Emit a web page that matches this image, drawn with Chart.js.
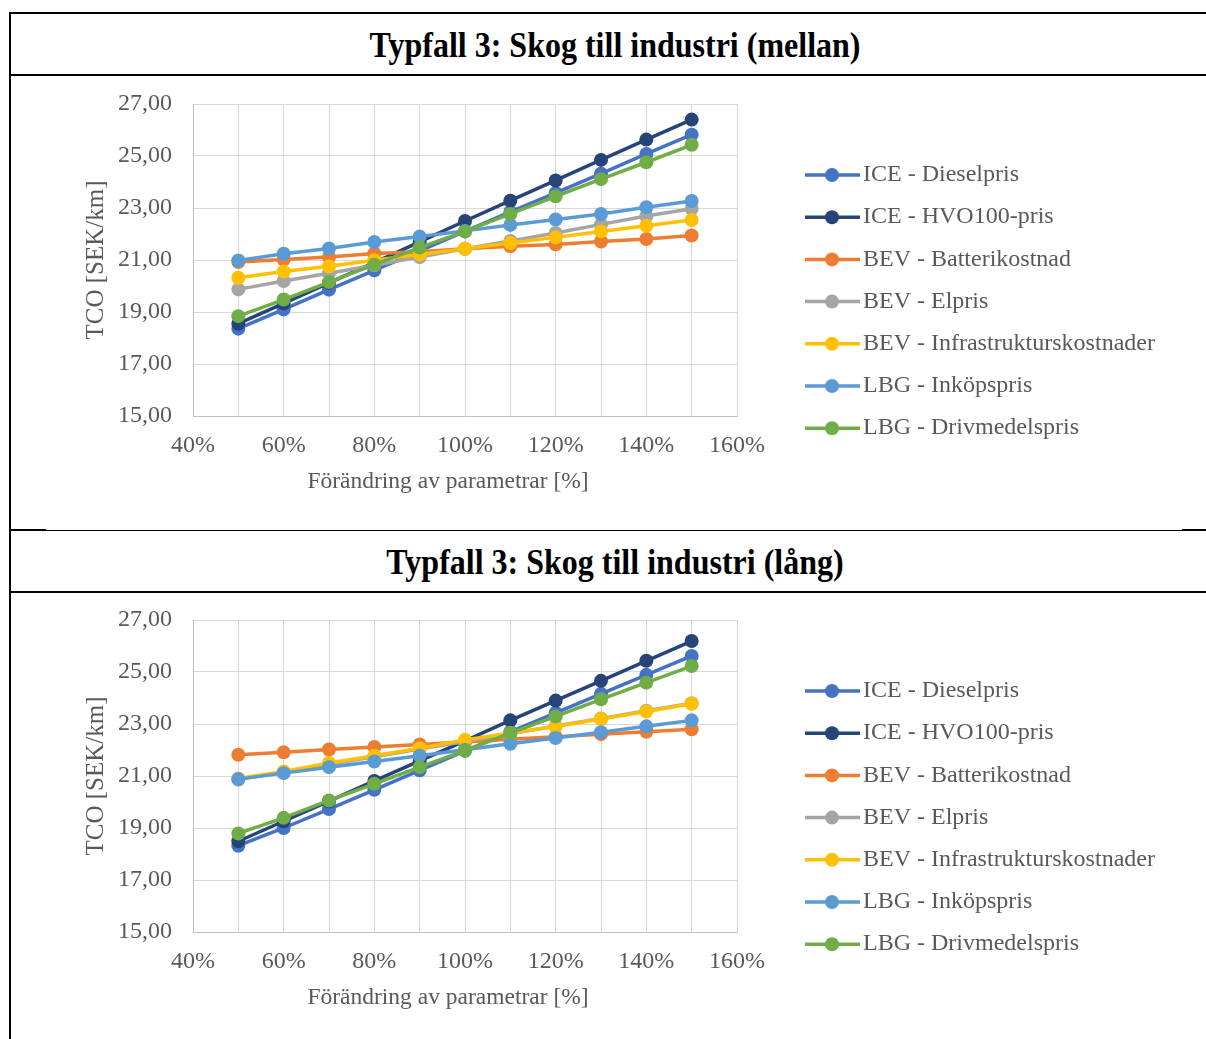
<!DOCTYPE html>
<html>
<head>
<meta charset="utf-8">
<script src="https://cdn.jsdelivr.net/npm/chart.js@4.4.1/dist/chart.umd.min.js"></script>
<style>
  html, body { margin:0; padding:0; background:#fff; }
  body { width:1206px; height:1039px; overflow:hidden; position:relative; }
  .hl { position:absolute; background:#000; }
  .title { position:absolute; left:0; width:1230px; height:60px; line-height:60px; text-align:center;
           font-family:'Liberation Serif','Times New Roman',serif; font-weight:bold; font-size:32px; color:#000;
           transform:scaleY(1.12); transform-origin:50% 50%; }
  canvas { position:absolute; left:11px; }
</style>
</head>
<body>
<div class="hl" style="left:9px;top:12px;width:1197px;height:2px"></div>
<div class="hl" style="left:9px;top:74px;width:1197px;height:2px"></div>
<div class="hl" style="left:9px;top:530px;width:1197px;height:1px"></div>
<div class="hl" style="left:9px;top:529px;width:37px;height:2px"></div>
<div class="hl" style="left:1182px;top:529px;width:24px;height:2px"></div>
<div class="hl" style="left:9px;top:591px;width:1197px;height:2px"></div>
<div class="hl" style="left:9px;top:12px;width:2px;height:1027px"></div>
<div class="title" style="top:15px">Typfall 3: Skog till industri (mellan)</div>
<div class="title" style="top:532px">Typfall 3: Skog till industri (lång)</div>
<canvas id="c1" width="1195" height="452" style="top:76px"></canvas>
<canvas id="c2" width="1195" height="452" style="top:592px"></canvas>
<script>
// ---- data ----
const xValues = [50, 60, 70, 80, 90, 100, 110, 120, 130, 140, 150]; // Förändring av parametrar [%]
const xTickValues = [40, 60, 80, 100, 120, 140, 160];
const yTickValues = [15, 17, 19, 21, 23, 25, 27];
const seriesNames = [
  'ICE - Dieselpris',
  'ICE - HVO100-pris',
  'BEV - Batterikostnad',
  'BEV - Elpris',
  'BEV - Infrastrukturskostnader',
  'LBG - Inköpspris',
  'LBG - Drivmedelspris'
];
const seriesColors = ['#4472C4', '#264478', '#ED7D31', '#A5A5A5', '#FFC000', '#5B9BD5', '#70AD47'];

// Typfall 3 (mellan)
const mellanDiesel     = [18.36, 19.10, 19.86, 20.60, 21.35, 22.10, 22.85, 23.58, 24.32, 25.08, 25.82];
const mellanHVO        = [18.55, 19.33, 20.12, 20.90, 21.70, 22.50, 23.28, 24.06, 24.85, 25.63, 26.40];
const mellanBatteri    = [20.92, 21.02, 21.12, 21.25, 21.32, 21.43, 21.53, 21.60, 21.71, 21.81, 21.94];
const mellanElpris     = [19.87, 20.19, 20.49, 20.80, 21.11, 21.43, 21.73, 22.04, 22.37, 22.69, 22.97];
const mellanInfra      = [20.32, 20.56, 20.76, 20.99, 21.21, 21.43, 21.65, 21.87, 22.10, 22.32, 22.54];
const mellanInkop      = [20.98, 21.24, 21.44, 21.69, 21.90, 22.12, 22.35, 22.56, 22.77, 23.03, 23.27];
const mellanDrivmedel  = [18.84, 19.48, 20.15, 20.82, 21.48, 22.10, 22.77, 23.45, 24.11, 24.76, 25.43];

// Typfall 3 (lång)
const langDiesel       = [18.32, 19.00, 19.73, 20.47, 21.22, 21.97, 22.70, 23.43, 24.16, 24.89, 25.62];
const langHVO          = [18.49, 19.26, 20.03, 20.81, 21.58, 22.35, 23.14, 23.90, 24.66, 25.43, 26.19];
const langBatteri      = [21.82, 21.91, 22.02, 22.12, 22.21, 22.31, 22.41, 22.51, 22.61, 22.70, 22.80];
const langElpris       = [20.86, 21.15, 21.45, 21.74, 22.04, 22.33, 22.62, 22.92, 23.21, 23.51, 23.80];
const langInfra        = [20.90, 21.17, 21.50, 21.78, 22.07, 22.39, 22.65, 22.90, 23.19, 23.48, 23.78];
const langInkop        = [20.88, 21.11, 21.34, 21.56, 21.78, 22.01, 22.24, 22.46, 22.68, 22.91, 23.14];
const langDrivmedel    = [18.79, 19.39, 20.06, 20.70, 21.34, 21.98, 22.65, 23.29, 23.95, 24.59, 25.23];

const mellanSeries = [mellanDiesel, mellanHVO, mellanBatteri, mellanElpris, mellanInfra, mellanInkop, mellanDrivmedel];
const langSeries   = [langDiesel, langHVO, langBatteri, langElpris, langInfra, langInkop, langDrivmedel];

// ---- styling ----
const FONT = "'Liberation Serif', 'Times New Roman', serif";
const TEXT = '#595959';

const legendPlugin = {
  id: 'excelLegend',
  afterDraw(chart) {
    const ctx = chart.ctx;
    const ds = chart.data.datasets;
    const x0 = 794, x1 = 849, mx = 821, tx = 852, y0 = 99, dy = 42.2;
    ctx.save();
    ctx.font = '24px ' + FONT;
    ctx.textBaseline = 'middle';
    ctx.textAlign = 'left';
    ds.forEach((d, i) => {
      const y = y0 + i * dy;
      ctx.strokeStyle = d.borderColor;
      ctx.lineWidth = 3.5;
      ctx.beginPath(); ctx.moveTo(x0, y); ctx.lineTo(x1, y); ctx.stroke();
      ctx.fillStyle = d.borderColor;
      ctx.beginPath(); ctx.arc(mx, y, 7, 0, Math.PI * 2); ctx.fill();
      ctx.fillStyle = TEXT;
      ctx.fillText(d.label, tx, y);
    });
    ctx.restore();
  }
};

function makeChart(id, series) {
  const datasets = series.map((vals, i) => ({
    label: seriesNames[i],
    data: xValues.map((x, k) => ({ x: x, y: vals[k] })),
    borderColor: seriesColors[i],
    backgroundColor: seriesColors[i],
    pointBackgroundColor: seriesColors[i],
    pointBorderColor: seriesColors[i],
    borderWidth: 3.5,
    pointRadius: 7,
    pointBorderWidth: 0,
    tension: 0,
    order: series.length - i
  }));
  return new Chart(document.getElementById(id), {
    type: 'line',
    data: { datasets },
    plugins: [legendPlugin],
    options: {
      responsive: false,
      animation: false,
      events: [],
      layout: { padding: { left: 0, top: 28, right: 469, bottom: 12 } },
      plugins: { legend: { display: false }, tooltip: { enabled: false } },
      scales: {
        x: {
          type: 'linear',
          min: 40, max: 160,
          afterFit(scale) {
            scale.height = 100;
            scale.paddingLeft = 0; scale.paddingRight = 0;
            if (!scale._titleShifted) {
              const orig = scale.drawTitle;
              scale.drawTitle = function () {
                this.ctx.save();
                this.ctx.translate(-17, 0);
                orig.call(this);
                this.ctx.restore();
              };
              scale._titleShifted = true;
            }
          },
          afterBuildTicks(scale) {
            const t = [];
            for (let v = 40; v <= 160; v += 10) t.push({ value: v });
            scale.ticks = t;
          },
          ticks: {
            autoSkip: false,
            maxRotation: 0,
            padding: 15,
            color: TEXT,
            font: { family: FONT, size: 24 },
            callback: (v) => xTickValues.includes(v) ? v + '%' : ''
          },
          grid: { color: '#D9D9D9', lineWidth: 1, drawTicks: false },
          border: { color: '#BFBFBF', width: 1 },
          title: {
            display: true,
            text: 'Förändring av parametrar [%]',
            color: TEXT,
            font: { family: FONT, size: 23.5 },
            align: 'center',
            padding: { top: 0, bottom: 20 }
          }
        },
        y: {
          min: 15, max: 27,
          afterFit(scale) {
            scale.width = 182;
            scale.paddingTop = 0; scale.paddingBottom = 0;
          },
          afterBuildTicks(scale) { scale.ticks = yTickValues.map(v => ({ value: v })); },
          ticks: {
            padding: 21,
            color: TEXT,
            font: { family: FONT, size: 24 },
            callback: (v) => v.toFixed(2).replace('.', ',')
          },
          grid: { color: '#D9D9D9', lineWidth: 1, drawTicks: false },
          border: { color: '#BFBFBF', width: 1 },
          title: {
            display: true,
            text: 'TCO [SEK/km]',
            color: TEXT,
            font: { family: FONT, size: 25 },
            padding: { top: 70, bottom: 0 }
          }
        }
      }
    }
  });
}

makeChart('c1', mellanSeries);
makeChart('c2', langSeries);
</script>
</body>
</html>
